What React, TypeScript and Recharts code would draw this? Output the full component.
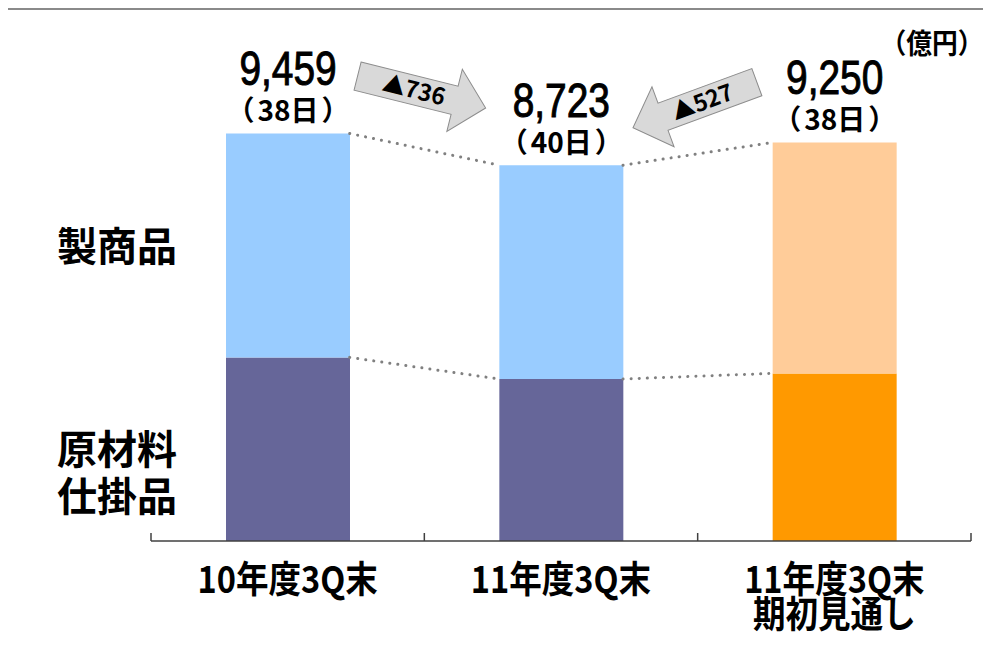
import React from 'react';
import {
  ComposedChart,
  Bar,
  XAxis,
  YAxis,
  Cell,
  LabelList,
  ReferenceLine,
  ReferenceDot,
  Customized,
} from 'recharts';

// ---- data ----
const categoryLines: string[][] = [['10年度3Q末'], ['11年度3Q末'], ['11年度3Q末', '期初見通し']];
const rawMaterials = [4262, 3760, 3890];
const totals = [9459, 8723, 9250];
const products = totals.map((t, i) => t - rawMaterials[i]);
const totalLabels = ['9,459', '8,723', '9,250'];
const dayLabels = ['38日', '40日', '38日'];
const changeLabels = ['▲736', '▲527'];
const unitLabel = '（億円）';
const seriesNames = ['製商品', '原材料', '仕掛品'];

const bottomColors = ['#666699', '#666699', '#FF9900'];
const topColors = ['#99CCFF', '#99CCFF', '#FFCC99'];

const data = categoryLines.map((c, i) => ({
  x: i + 0.5,
  raw: rawMaterials[i],
  prod: products[i],
  total: totals[i],
}));

const CHART_W = 975;
const CHART_H = 630;
const MARGIN = { top: 14, right: 12, bottom: 0, left: 143 };
const BAR_SIZE = 124;
const CAT_PX = (CHART_W - MARGIN.left - MARGIN.right) / 3;
const HALF_BAR = BAR_SIZE / 2 / CAT_PX;

const CJK = "'Noto Sans CJK JP', 'Noto Sans', sans-serif";

const CondText = ({ x, y, text, size, sx = 1, weight = 'bold', family = CJK, extra = {} }: any) => (
  <text
    transform={`translate(${x},${y}) scale(${sx},1)`}
    textAnchor="middle"
    fontSize={size}
    fontWeight={weight}
    fontFamily={family}
    fill="#000"
    {...extra}
  >
    {text}
  </text>
);

const AxisTick = (props: any) => {
  const { x, y, payload } = props;
  const v = payload.value;
  if (Math.abs(v - Math.round(v)) < 1e-6) {
    return <line x1={x} x2={x} y1={y - 8} y2={y} stroke="#404040" strokeWidth={1.5} />;
  }
  const idx = Math.floor(v);
  const lines = categoryLines[idx] || [];
  return (
    <g>
      {lines.map((l, i) => (
        <CondText key={i} x={x} y={y + 52 + i * 35} text={l} size={37} sx={0.88} />
      ))}
    </g>
  );
};

const TopLabel = (props: any) => {
  const { x, y, width, index } = props;
  const cx = x + width / 2;
  return (
    <g>
      <CondText
        x={cx}
        y={y - 48}
        text={totalLabels[index]}
        size={48}
        sx={0.81}
        weight="normal"
        family="'Liberation Sans', Arial, sans-serif"
        extra={{ stroke: '#000', strokeWidth: 1 }}
      />
      <text
        x={cx}
        y={y - 12}
        textAnchor="middle"
        fontSize={28}
        fontWeight="bold"
        fontFamily={CJK}
        fill="#000"
      >
        <tspan>（</tspan>
        <tspan dx={3}>{dayLabels[index]}</tspan>
        <tspan dx={3}>）</tspan>
      </text>
    </g>
  );
};

const makeArrow = (angle: number, textAngle: number, textDx: number, label: string) => (props: any) => {
  const { cx, cy } = props;
  const L = 66;
  const sw = 14.5;
  const hw = 32;
  const hl = 32;
  const pts = [
    [-L, -sw],
    [L - hl, -sw],
    [L - hl, -hw],
    [L, 0],
    [L - hl, hw],
    [L - hl, sw],
    [-L, sw],
  ]
    .map((p) => p.join(','))
    .join(' ');
  return (
    <g transform={`translate(${cx},${cy})`}>
      <polygon points={pts} transform={`rotate(${angle})`} fill="#d9d9d9" stroke="#8c8c8c" strokeWidth={1} />
      <g transform={`rotate(${textAngle})`}>
        <text
          x={textDx}
          y={8}
          textAnchor="middle"
          fontSize={23}
          fontWeight="bold"
          fontFamily={CJK}
          fill="#000"
        >
          {label}
        </text>
      </g>
    </g>
  );
};

const Arrow1 = makeArrow(14, 14, -8, changeLabels[0]);
const Arrow2 = makeArrow(159.8, -20.2, 8, changeLabels[1]);

const SideLabels = () => (
  <g>
    <CondText x={109} y={251} text={seriesNames[0]} size={40} />
    <CondText x={109} y={454} text={seriesNames[1]} size={40} />
    <CondText x={109} y={501} text={seriesNames[2]} size={40} />
    <CondText x={924} y={44} text={unitLabel} size={28} sx={0.92} />
  </g>
);

const dotted = {
  stroke: '#808080',
  strokeWidth: 3,
  strokeDasharray: '0.1 8',
  strokeLinecap: 'round' as const,
};

export default function App() {
  return (
    <div
      style={{
        marginLeft: -2,
        width: CHART_W,
        height: CHART_H,
        borderTop: '2px solid #8a8a8a',
        borderLeft: '2px solid #8a8a8a',
        background: '#fff',
      }}
    >
      <ComposedChart width={CHART_W} height={CHART_H} data={data} margin={MARGIN}>
        <XAxis
          dataKey="x"
          type="number"
          domain={[0, 3]}
          ticks={[0, 0.5, 1, 1.5, 2, 2.5, 3]}
          interval={0}
          tick={<AxisTick />}
          tickLine={false}
          tickSize={0}
          tickMargin={0}
          height={99}
          axisLine={{ stroke: '#404040', strokeWidth: 1.5 }}
          allowDataOverflow
        />
        <YAxis hide domain={[0, 12000]} allowDataOverflow />
        <Bar dataKey="raw" stackId="a" barSize={BAR_SIZE} isAnimationActive={false}>
          {data.map((d, i) => (
            <Cell key={i} fill={bottomColors[i]} />
          ))}
        </Bar>
        <Bar dataKey="prod" stackId="a" barSize={BAR_SIZE} isAnimationActive={false}>
          {data.map((d, i) => (
            <Cell key={i} fill={topColors[i]} />
          ))}
          <LabelList dataKey="total" content={<TopLabel />} />
        </Bar>
        {[0, 1].map((i) => (
          <ReferenceLine
            key={'t' + i}
            segment={[
              { x: data[i].x + HALF_BAR, y: totals[i] },
              { x: data[i + 1].x - HALF_BAR, y: totals[i + 1] },
            ]}
            {...dotted}
          />
        ))}
        {[0, 1].map((i) => (
          <ReferenceLine
            key={'b' + i}
            segment={[
              { x: data[i].x + HALF_BAR, y: rawMaterials[i] },
              { x: data[i + 1].x - HALF_BAR, y: rawMaterials[i + 1] },
            ]}
            {...dotted}
          />
        ))}
        <ReferenceDot x={0.99} y={10420} r={0} shape={Arrow1} ifOverflow="visible" />
        <ReferenceDot x={1.99} y={10120} r={0} shape={Arrow2} ifOverflow="visible" />
        <Customized component={SideLabels} />
      </ComposedChart>
    </div>
  );
}
